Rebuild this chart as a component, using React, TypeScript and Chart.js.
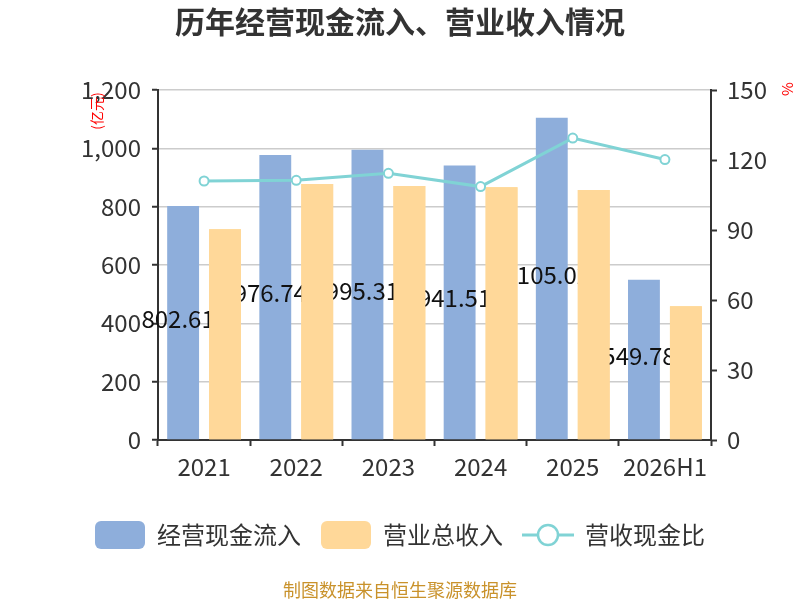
import React, { useEffect, useRef } from "react";
import { Chart, ChartConfiguration, registerables } from "chart.js";

Chart.register(...registerables);

const categories = ["2021", "2022", "2023", "2024", "2025", "2026H1"];
const cashInflow = [802.61, 976.74, 995.31, 941.51, 1105.02, 549.78];
const revenue = [723, 878, 871, 867, 857, 459];
const cashRatio = [111.0, 111.3, 114.3, 108.6, 129.4, 120.2];

const leftTicks = [0, 200, 400, 600, 800, 1000, 1200];
const rightTicks = [0, 30, 60, 90, 120, 150];

const FONT = "'Noto Sans CJK SC', 'Noto Sans', sans-serif";
const BLUE = "#8eaedb";
const ORANGE = "#ffd899";
const TEAL = "#80d3d5";

// little canvases used as legend symbols
function makeBox(color: string) {
  const c = document.createElement("canvas");
  c.width = 50;
  c.height = 28;
  const g = c.getContext("2d")!;
  g.fillStyle = color;
  g.beginPath();
  g.roundRect(0, 0, 50, 28, 6);
  g.fill();
  return c;
}

function makeLineMark(color: string) {
  const c = document.createElement("canvas");
  c.width = 52;
  c.height = 28;
  const g = c.getContext("2d")!;
  g.strokeStyle = color;
  g.lineWidth = 3;
  g.beginPath();
  g.moveTo(0, 14);
  g.lineTo(52, 14);
  g.stroke();
  g.beginPath();
  g.arc(26, 14, 10, 0, Math.PI * 2);
  g.fillStyle = "#fff";
  g.fill();
  g.lineWidth = 2.5;
  g.stroke();
  return c;
}

const extras = {
  id: "extras",
  afterDatasetDraw(chart: any, args: any) {
    // value labels of the first series; the orange bars are painted again on top of them
    if (args.index !== 0) return;
    const ctx = chart.ctx;
    ctx.save();
    ctx.font = `24px ${FONT}`;
    ctx.fillStyle = "#111";
    ctx.textAlign = "center";
    ctx.textBaseline = "middle";
    args.meta.data.forEach((bar: any, i: number) => {
      ctx.fillText(cashInflow[i].toFixed(2), bar.x - 5, (bar.y + bar.base) / 2 - 4);
    });
    ctx.restore();
    chart.getDatasetMeta(1).data.forEach((el: any) => el.draw(ctx));
  },
  afterDraw(chart: any) {
    const ctx = chart.ctx;
    ctx.save();
    ctx.fillStyle = "#ff0000";
    ctx.textAlign = "center";
    ctx.textBaseline = "middle";
    ctx.font = `14px ${FONT}`;
    ctx.translate(97, 111);
    ctx.rotate(-Math.PI / 2);
    ctx.fillText("(亿元)", 0, 0);
    ctx.restore();

    ctx.save();
    ctx.fillStyle = "#ff0000";
    ctx.textAlign = "center";
    ctx.textBaseline = "middle";
    ctx.font = `15px ${FONT}`;
    ctx.translate(787, 89);
    ctx.rotate(-Math.PI / 2);
    ctx.fillText("%", 0, 0);
    ctx.restore();

    ctx.save();
    ctx.fillStyle = "#c9922b";
    ctx.textAlign = "center";
    ctx.textBaseline = "middle";
    ctx.font = `18px ${FONT}`;
    ctx.fillText("制图数据来自恒生聚源数据库", 400, 590);
    ctx.restore();
  },
};

const App: React.FC = () => {
  const chartRef = useRef<HTMLCanvasElement | null>(null);

  useEffect(() => {
    document.body.style.margin = "0";
    if (!chartRef.current) return;
    const context = chartRef.current.getContext("2d");
    if (!context) return;

    const marks = [makeBox(BLUE), makeBox(ORANGE), makeLineMark(TEAL)];

    const config: ChartConfiguration = {
      type: "bar",
      data: {
        labels: categories,
        datasets: [
          {
            label: "经营现金流入",
            data: cashInflow,
            backgroundColor: BLUE,
            yAxisID: "y",
            order: 1,
            categoryPercentage: 0.91,
            barPercentage: 0.76,
          },
          {
            label: "营业总收入",
            data: revenue,
            backgroundColor: ORANGE,
            yAxisID: "y",
            order: 1,
            categoryPercentage: 0.91,
            barPercentage: 0.76,
          },
          {
            type: "line",
            label: "营收现金比",
            data: cashRatio,
            borderColor: TEAL,
            borderWidth: 3,
            pointRadius: 4.5,
            pointBackgroundColor: "#fff",
            pointBorderColor: TEAL,
            pointBorderWidth: 2,
            yAxisID: "y1",
            order: 0,
          } as any,
        ],
      },
      options: {
        responsive: true,
        maintainAspectRatio: false,
        animation: false,
        font: { family: FONT },
        layout: { padding: { left: 32, right: 32, top: 0, bottom: 43 } },
        plugins: {
          title: {
            display: true,
            text: "历年经营现金流入、营业收入情况",
            color: "#333",
            font: { size: 30, weight: "bold", family: FONT },
            padding: { top: 4, bottom: 50 },
          },
          legend: {
            position: "bottom",
            labels: {
              color: "#333",
              font: { size: 24, family: FONT },
              usePointStyle: true,
              pointStyleWidth: 50,
              padding: 20,
              sort: (a: any, b: any) => a.datasetIndex - b.datasetIndex,
              generateLabels: (chart: any) =>
                chart.data.datasets.map((ds: any, i: number) => ({
                  text: ds.label,
                  datasetIndex: i,
                  pointStyle: marks[i],
                  fillStyle: "transparent",
                  strokeStyle: "transparent",
                  lineWidth: 0,
                  hidden: false,
                  fontColor: "#333",
                })),
            },
          },
          tooltip: { enabled: false },
        },
        scales: {
          x: {
            grid: {
              offset: true,
              drawOnChartArea: false,
              tickLength: 6,
              tickColor: "#333",
              tickWidth: 2,
            },
            border: { display: true, color: "#333", width: 2 },
            ticks: { color: "#333", font: { size: 24, family: FONT }, padding: 6 },
            afterFit: (s: any) => {
              s.height = 63;
            },
          },
          y: {
            position: "left",
            min: leftTicks[0],
            max: leftTicks[leftTicks.length - 1],
            afterBuildTicks: (s: any) => {
              s.ticks = leftTicks.map((v) => ({ value: v }));
            },
            grid: {
              color: "#cccccc",
              lineWidth: 1.5,
              tickLength: 6,
              tickColor: "#333",
              tickWidth: 2,
            },
            border: { display: true, color: "#333", width: 2 },
            ticks: {
              color: "#333",
              font: { size: 24, family: FONT },
              padding: 11,
              callback: (v: any) => Number(v).toLocaleString("en-US"),
            },
            afterFit: (s: any) => {
              s.width = 126;
            },
          },
          y1: {
            position: "right",
            min: rightTicks[0],
            max: rightTicks[rightTicks.length - 1],
            afterBuildTicks: (s: any) => {
              s.ticks = rightTicks.map((v) => ({ value: v }));
            },
            grid: {
              drawOnChartArea: false,
              tickLength: 6,
              tickColor: "#333",
              tickWidth: 2,
            },
            border: { display: true, color: "#333", width: 2 },
            ticks: { color: "#333", font: { size: 24, family: FONT }, padding: 10 },
            afterFit: (s: any) => {
              s.width = 57;
            },
          },
        },
      } as any,
      plugins: [extras],
    };

    const chartInstance = new Chart(context, config);
    return () => {
      chartInstance.destroy();
    };
  }, []);

  return (
    <div style={{ position: "relative", width: 800, height: 600 }}>
      <canvas ref={chartRef} />
    </div>
  );
};

export default App;
